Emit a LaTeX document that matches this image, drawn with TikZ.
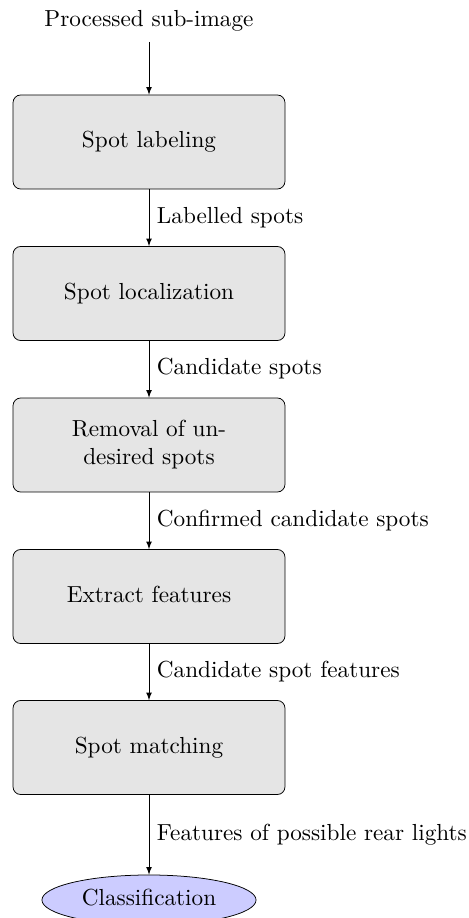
\documentclass[tikz,border=0pt]{standalone}
\usetikzlibrary{shapes.geometric,arrows}
\newcommand{\bigtxt}[1]{\scalebox{1.225}{\begin{tabular}{@{}c@{}}#1\end{tabular}}}
\begin{document}
\begin{tikzpicture}[x=0.5277pt,y=-0.5277pt,
  every node/.style={font=\normalsize},
  procbox/.style={draw=black, fill=gray!20, rounded corners=4pt,
    minimum width=143.5pt, minimum height=49.6pt, align=center, inner sep=0pt},
  endell/.style={draw=black, ellipse, fill=blue!20, minimum width=113pt, minimum height=26.4pt, inner sep=0pt},
  flow/.style={draw=black, -latex},
  lbl/.style={right, midway, inner sep=4pt}
]
\useasboundingbox (0,0) rectangle (469,918);
\node[anchor=base] (in) at (149,27) {\bigtxt{Processed sub-image}};
\node[procbox] (b1) at (149,142) {\bigtxt{Spot labeling}};
\node[procbox] (b2) at (149,293.5) {\bigtxt{Spot localization}};
\node[procbox] (b3) at (149,445) {\bigtxt{Removal of un-\\desired spots}};
\node[procbox] (b4) at (149,596.5) {\bigtxt{Extract features}};
\node[procbox] (b5) at (149,747.5) {\bigtxt{Spot matching}};
\node[endell] (c) at (149,900) {\bigtxt{Classification}};
\draw[flow] (in.south) -- (b1.north);
\draw[flow] (b1.south) -- node[lbl] {\bigtxt{Labelled spots}} (b2.north);
\draw[flow] (b2.south) -- node[lbl] {\bigtxt{Candidate spots}} (b3.north);
\draw[flow] (b3.south) -- node[lbl] {\bigtxt{Confirmed candidate spots}} (b4.north);
\draw[flow] (b4.south) -- node[lbl] {\bigtxt{Candidate spot features}} (b5.north);
\draw[flow] (b5.south) -- node[lbl] {\bigtxt{Features of possible rear lights}} (c.north);
\end{tikzpicture}
\end{document}
